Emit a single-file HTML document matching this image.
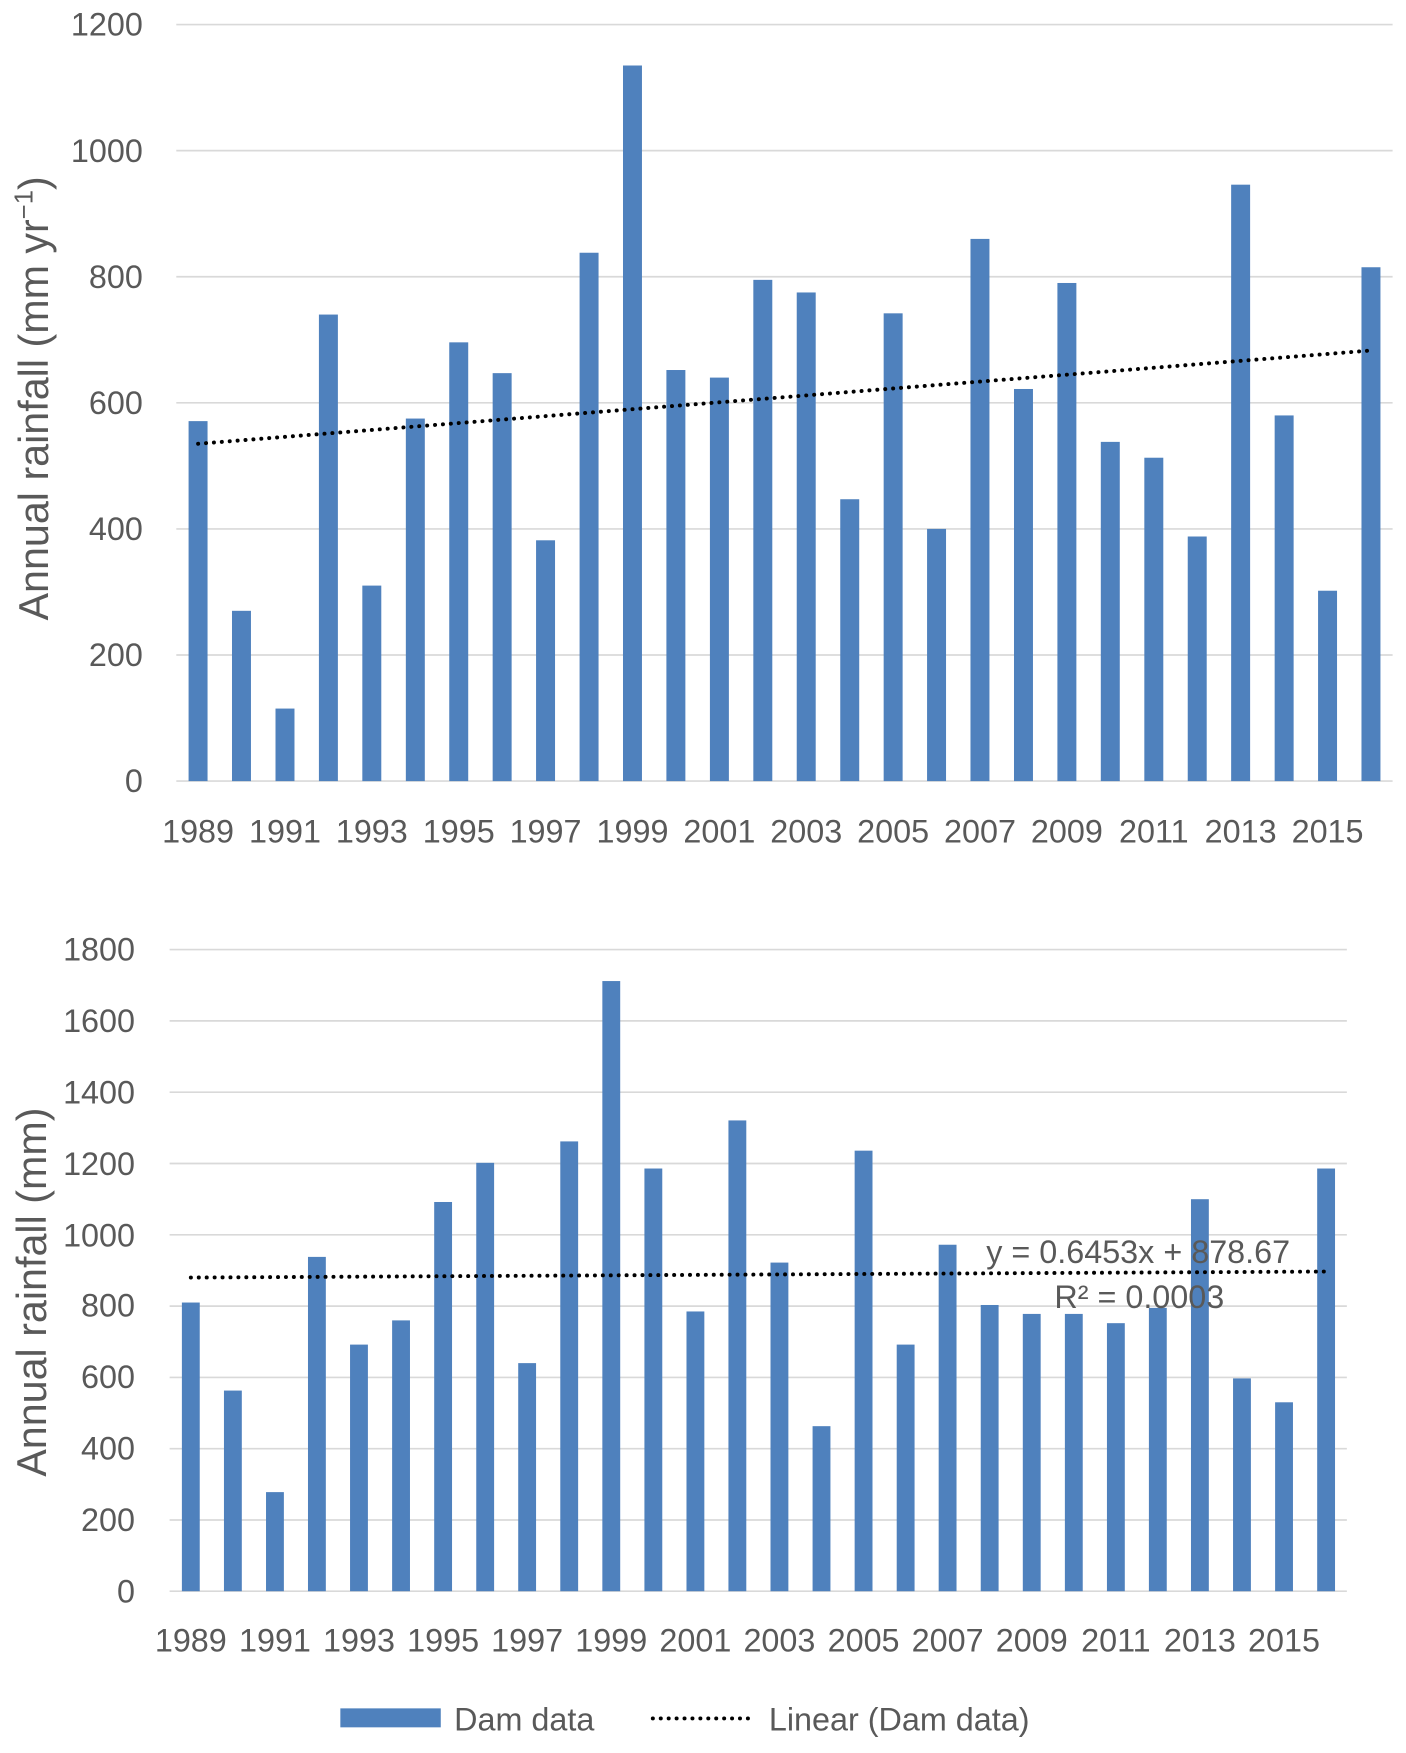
<!DOCTYPE html>
<html><head><meta charset="utf-8"><style>
html,body{margin:0;padding:0;background:#fff}
svg{display:block}
text{font-family:"Liberation Sans",sans-serif;fill:#595959}
</style></head><body>
<svg width="1406" height="1753" viewBox="0 0 1260 1571" preserveAspectRatio="none" xmlns="http://www.w3.org/2000/svg">
<g stroke="#d9d9d9" stroke-width="1.5">
<line x1="158" x2="1248" y1="22" y2="22"/><line x1="158" x2="1248" y1="135" y2="135"/><line x1="158" x2="1248" y1="248" y2="248"/><line x1="158" x2="1248" y1="361" y2="361"/><line x1="158" x2="1248" y1="474" y2="474"/><line x1="158" x2="1248" y1="587" y2="587"/><line x1="158" x2="1248" y1="700" y2="700"/>
<line x1="152" x2="1207" y1="851" y2="851"/><line x1="152" x2="1207" y1="914.9" y2="914.9"/><line x1="152" x2="1207" y1="978.8" y2="978.8"/><line x1="152" x2="1207" y1="1042.7" y2="1042.7"/><line x1="152" x2="1207" y1="1106.6" y2="1106.6"/><line x1="152" x2="1207" y1="1170.5" y2="1170.5"/><line x1="152" x2="1207" y1="1234.4" y2="1234.4"/><line x1="152" x2="1207" y1="1298.3" y2="1298.3"/><line x1="152" x2="1207" y1="1362.2" y2="1362.2"/><line x1="152" x2="1207" y1="1426" y2="1426"/>
</g>
<g fill="#4f81bd">
<rect x="169" y="377.4" width="17" height="322.6"/><rect x="207.9" y="547.4" width="17" height="152.6"/><rect x="246.9" y="635" width="17" height="65"/><rect x="285.8" y="281.9" width="17" height="418.1"/><rect x="324.7" y="524.8" width="17" height="175.2"/><rect x="363.7" y="375.1" width="17" height="324.9"/><rect x="402.6" y="306.8" width="17" height="393.2"/><rect x="441.5" y="334.4" width="17" height="365.6"/><rect x="480.4" y="484.2" width="17" height="215.8"/><rect x="519.4" y="226.5" width="17" height="473.5"/><rect x="558.3" y="58.7" width="17" height="641.3"/><rect x="597.2" y="331.6" width="17" height="368.4"/><rect x="636.2" y="338.4" width="17" height="361.6"/><rect x="675.1" y="250.8" width="17" height="449.2"/><rect x="714" y="262.1" width="17" height="437.9"/><rect x="753" y="447.4" width="17" height="252.6"/><rect x="791.9" y="280.8" width="17" height="419.2"/><rect x="830.8" y="474" width="17" height="226"/><rect x="869.7" y="214.1" width="17" height="485.9"/><rect x="908.7" y="348.6" width="17" height="351.4"/><rect x="947.6" y="253.6" width="17" height="446.4"/><rect x="986.5" y="396" width="17" height="304"/><rect x="1025.5" y="410.2" width="17" height="289.8"/><rect x="1064.4" y="480.8" width="17" height="219.2"/><rect x="1103.3" y="165.5" width="17" height="534.5"/><rect x="1142.3" y="372.3" width="17" height="327.7"/><rect x="1181.2" y="529.4" width="17" height="170.6"/><rect x="1220.1" y="239.5" width="17" height="460.5"/>
<rect x="163" y="1167.3" width="16" height="258.7"/><rect x="200.7" y="1246.2" width="16" height="179.8"/><rect x="238.4" y="1337.2" width="16" height="88.8"/><rect x="276" y="1126.4" width="16" height="299.6"/><rect x="313.7" y="1205" width="16" height="221"/><rect x="351.4" y="1183.3" width="16" height="242.7"/><rect x="389.1" y="1077.2" width="16" height="348.8"/><rect x="426.8" y="1042.1" width="16" height="383.9"/><rect x="464.4" y="1221.6" width="16" height="204.4"/><rect x="502.1" y="1022.9" width="16" height="403.1"/><rect x="539.8" y="879.2" width="16" height="546.8"/><rect x="577.5" y="1047.2" width="16" height="378.8"/><rect x="615.2" y="1175.3" width="16" height="250.7"/><rect x="652.8" y="1004.1" width="16" height="421.9"/><rect x="690.5" y="1131.5" width="16" height="294.5"/><rect x="728.2" y="1278.1" width="16" height="147.9"/><rect x="765.9" y="1031.2" width="16" height="394.8"/><rect x="803.6" y="1205" width="16" height="221"/><rect x="841.2" y="1115.5" width="16" height="310.5"/><rect x="878.9" y="1169.5" width="16" height="256.5"/><rect x="916.6" y="1177.5" width="16" height="248.5"/><rect x="954.3" y="1177.5" width="16" height="248.5"/><rect x="992" y="1185.8" width="16" height="240.2"/><rect x="1029.6" y="1172.1" width="16" height="253.9"/><rect x="1067.3" y="1074.7" width="16" height="351.3"/><rect x="1105" y="1235.3" width="16" height="190.7"/><rect x="1142.7" y="1256.7" width="16" height="169.3"/><rect x="1180.4" y="1047.2" width="16" height="378.8"/>
<rect x="305" y="1531" width="90" height="17"/>
</g>
<g stroke="#000" stroke-width="3.5" stroke-linecap="round" stroke-dasharray="0.1 7" fill="none">
<line x1="177.5" y1="397.7" x2="1228.6" y2="314.1"/>
<line x1="171" y1="1144.9" x2="1188.4" y2="1139.5"/>
<line x1="585" y1="1540" x2="675" y2="1540"/>
</g>
<g font-size="29" text-anchor="end">
<text x="128" y="32">1200</text><text x="128" y="145">1000</text><text x="128" y="258">800</text><text x="128" y="371">600</text><text x="128" y="484">400</text><text x="128" y="597">200</text><text x="128" y="710">0</text>
<text x="121" y="861">1800</text><text x="121" y="925">1600</text><text x="121" y="989">1400</text><text x="121" y="1053">1200</text><text x="121" y="1117">1000</text><text x="121" y="1180">800</text><text x="121" y="1244">600</text><text x="121" y="1308">400</text><text x="121" y="1372">200</text><text x="121" y="1436">0</text>
</g>
<g font-size="29" text-anchor="middle">
<text x="177.5" y="755">1989</text><text x="255.4" y="755">1991</text><text x="333.2" y="755">1993</text><text x="411.1" y="755">1995</text><text x="488.9" y="755">1997</text><text x="566.8" y="755">1999</text><text x="644.7" y="755">2001</text><text x="722.5" y="755">2003</text><text x="800.4" y="755">2005</text><text x="878.2" y="755">2007</text><text x="956.1" y="755">2009</text><text x="1034" y="755">2011</text><text x="1111.8" y="755">2013</text><text x="1189.7" y="755">2015</text>
<text x="171" y="1480">1989</text><text x="246.4" y="1480">1991</text><text x="321.7" y="1480">1993</text><text x="397.1" y="1480">1995</text><text x="472.4" y="1480">1997</text><text x="547.8" y="1480">1999</text><text x="623.2" y="1480">2001</text><text x="698.5" y="1480">2003</text><text x="773.9" y="1480">2005</text><text x="849.2" y="1480">2007</text><text x="924.6" y="1480">2009</text><text x="1000" y="1480">2011</text><text x="1075.3" y="1480">2013</text><text x="1150.7" y="1480">2015</text>
<text x="1020" y="1132">y = 0.6453x + 878.67</text>
<text x="1021" y="1172">R² = 0.0003</text>
<text transform="translate(43,357) rotate(-90)" font-size="37">Annual rainfall (mm yr<tspan dy="-14" font-size="23">−1</tspan><tspan dy="14">)</tspan></text>
<text transform="translate(41,1158) rotate(-90)" font-size="37">Annual rainfall (mm)</text>
</g>
<text x="407" y="1551" font-size="29">Dam data</text>
<text x="689" y="1551" font-size="29">Linear (Dam data)</text>
</svg>
</body></html>
